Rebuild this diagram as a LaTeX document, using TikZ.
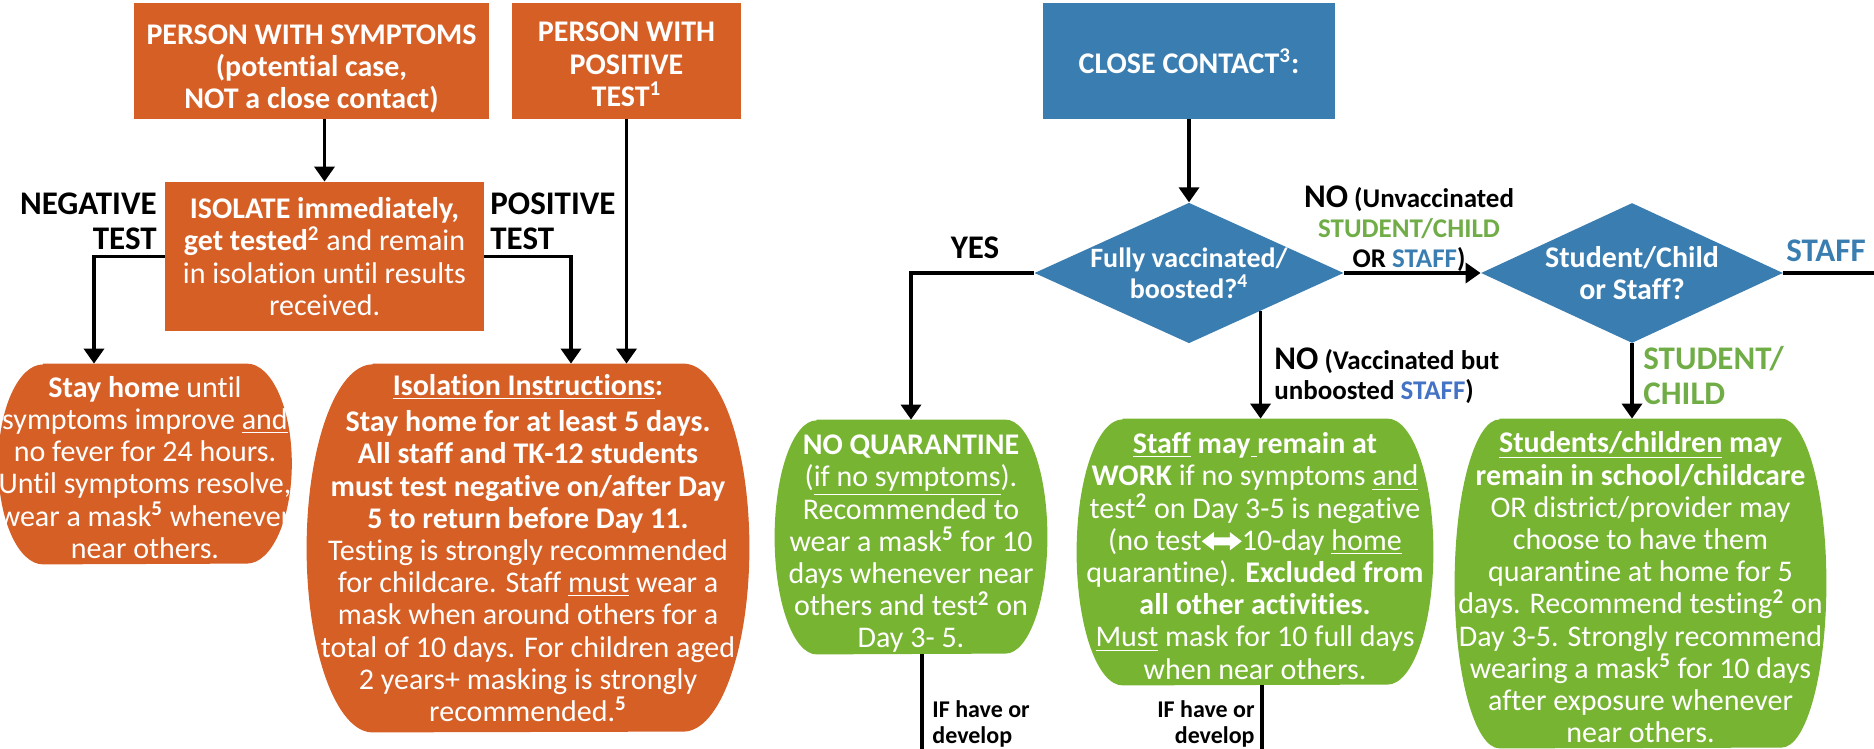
\documentclass[tikz,border=0pt]{standalone}
\usepackage{fontspec}
\setmainfont{Carlito}[Ligatures=NoCommon]
\usetikzlibrary{shapes.geometric,arrows.meta,backgrounds}
\definecolor{cOrange}{HTML}{D65F26}
\definecolor{cBlue}{HTML}{3A7DB1}
\definecolor{cGreen}{HTML}{77B432}
\definecolor{tGreen}{HTML}{70AD47}
\definecolor{tBlue}{HTML}{3A7DB1}
\definecolor{tBlueB}{HTML}{4472C4}
\newcommand{\bxf}{\fontsize{15}{16.1}\selectfont}
\newcommand{\dn}[1]{\rule{0pt}{#1}}
\newcommand{\dblarrow}{\tikz[x=1pt,y=1pt,baseline=-4.5pt]\fill[white] (0,0) -- (6,4.6) -- (6,2) -- (14,2) -- (14,4.6) -- (20,0) -- (14,-4.6) -- (14,-2) -- (6,-2) -- (6,-4.6) -- cycle;}
\newcommand{\capsulefill}[4]{%
  \begin{scope}[on background layer]
  \fill[#2] ([xshift=#3]#1.north west) -- ([xshift=-#3]#1.north east)
     arc[start angle=90,end angle=-90,x radius=#3,y radius=#4]
     -- ([xshift=#3]#1.south west)
     arc[start angle=270,end angle=90,x radius=#3,y radius=#4] -- cycle;
  \end{scope}}
\begin{document}
\begin{tikzpicture}[x=0.5pt,y=-0.5pt,
  rbox/.style={rectangle, fill=#1, text=white, align=center, inner sep=0pt, font=\bxf},
  cbox/.style={rectangle, text=white, align=center, inner sep=0pt, font=\bxf},
  dia/.style={diamond, aspect=2.2, fill=cBlue, text=white, align=center, inner sep=0pt},
  ln/.style={line width=1.8pt},
  arr/.style={line width=1.8pt, -{Triangle[length=7.5pt,width=10pt]}},
  lab/.style={font=\bfseries\fontsize{16.5}{17.5}\selectfont, inner sep=0pt},
  slab/.style={font=\bfseries\fontsize{12}{13}\selectfont, inner sep=0pt}]
\useasboundingbox (0,0) rectangle (1874,749);

% top boxes
\node[rbox=cOrange, minimum width=177.5pt, minimum height=58pt, font=\bfseries\bxf] (sym) at (311.5,61)
  {\dn{17.7pt}PERSON WITH SYMPTOMS\\(potential case,\\NOT a close contact)};
\node[rbox=cOrange, minimum width=114.5pt, minimum height=58pt, font=\bfseries\bxf] (pos) at (626.5,61)
  {\dn{13.3pt}PERSON WITH\\POSITIVE\\TEST\textsuperscript{1}};
\node[rbox=cOrange, minimum width=159.5pt, minimum height=74.5pt] (iso) at (324.5,256.5)
  {\textbf{ISOLATE immediately,}\\\textbf{get tested\textsuperscript{2}} and remain\\in isolation until results\\received.};
\node[rbox=cBlue, minimum width=146pt, minimum height=58pt, font=\bfseries\bxf] (cc) at (1189,61)
  {CLOSE CONTACT\textsuperscript{3}:};

% capsule boxes
\node[cbox, minimum width=145pt, minimum height=100pt] (stay) at (145,464)
  {\dn{14pt}\textbf{Stay home} until\\symptoms improve \underline{and}\\no fever for 24 hours.\\Until symptoms resolve,\\wear a mask\textsuperscript{\textbf{5}} whenever\\near others.};
\capsulefill{stay}{cOrange}{22.5pt}{50pt}

\node[cbox, minimum width=221pt, minimum height=184pt] (instr) at (528,548)
  {\textbf{\underline{Isolation Instructions}:}\\[2pt]
   \textbf{Stay home for at least 5 days.}\\
   \textbf{All staff and TK-12 students}\\
   \textbf{must test negative on/after Day}\\
   \textbf{5 to return before Day 11.}\\
   Testing is strongly recommended\\
   for childcare. Staff \underline{must} wear a\\
   mask when around others for a\\
   total of 10 days. For children aged\\
   2 years+ masking is strongly\\
   recommended.\textsuperscript{\textbf{5}}};
\capsulefill{instr}{cOrange}{33pt}{92pt}

\node[cbox, minimum width=136pt, minimum height=117pt] (noq) at (911,537)
  {\dn{16.7pt}\textbf{NO QUARANTINE}\\(\underline{if no symptoms}).\\Recommended to\\wear a mask\textsuperscript{\textbf{5}} for 10\\days whenever near\\others and test\textsuperscript{\textbf{2}} on\\Day 3- 5.};
\capsulefill{noq}{cGreen}{21pt}{58.5pt}

\node[cbox, minimum width=178pt, minimum height=133pt] (staff) at (1255,552)
  {\dn{14.5pt}\textbf{\underline{Staff} may\underline{\ }remain at}\\\textbf{WORK} if no symptoms \underline{and}\\test\textsuperscript{\textbf{2}} on Day 3-5 is negative\\(no test\dblarrow10-day \underline{home}\\quarantine). \textbf{Excluded from}\\\textbf{all other activities.}\\\underline{Must} mask for 10 full days\\when near others.};
\capsulefill{staff}{cGreen}{23pt}{66.5pt}

\node[cbox, minimum width=185.5pt, minimum height=164.5pt] (stud) at (1640.5,583.5)
  {\dn{14.5pt}\textbf{\underline{Students/children} may}\\\textbf{remain in school/childcare}\\OR district/provider may\\choose to have them\\quarantine at home for 5\\days. Recommend testing\textsuperscript{\textbf{2}} on\\Day 3-5. Strongly recommend\\wearing a mask\textsuperscript{\textbf{5}} for 10 days\\after exposure whenever\\near others.};
\capsulefill{stud}{cGreen}{22.5pt}{82.25pt}

% diamonds
\node[dia, minimum width=153pt, minimum height=70pt, font=\bfseries\fontsize{14}{15.5}\selectfont] (d1) at (1189,273)
  {Fully vaccinated/\\boosted?\textsuperscript{4}};
\node[dia, minimum width=151pt, minimum height=70pt, font=\bfseries\fontsize{15}{16}\selectfont] (d2) at (1632,273)
  {Student/Child\\or Staff?};

% labels
\node[lab, align=right, anchor=east] (neg) at (157,221) {NEGATIVE\\TEST};
\node[lab, align=left, anchor=west] (posl) at (490,221) {POSITIVE\\TEST};
\node[lab] (yes) at (975,248) {YES};
\node[align=center, inner sep=0pt, font=\bfseries\fontsize{13.5}{15}\selectfont] (no1) at (1409,229)
  {{\fontsize{16.5}{15}\selectfont NO} (Unvaccinated\\\textcolor{tGreen}{STUDENT/CHILD}\\OR \textcolor{tBlue}{STAFF})};
\node[align=left, anchor=west, inner sep=0pt, font=\bfseries\fontsize{13.5}{15}\selectfont] (no2) at (1274,376)
  {{\fontsize{16.5}{15}\selectfont NO} (Vaccinated but\\unboosted \textcolor{tBlueB}{STAFF})};
\node[lab, anchor=west, text=tBlue] (stl) at (1786,251) {STAFF};
\node[lab, align=left, anchor=west, text=tGreen] (scl) at (1643,376) {STUDENT/\\CHILD};
\node[slab, align=left, anchor=north west] (if1) at (932,700) {IF have or\\develop};
\node[slab, align=right, anchor=north east] (if2) at (1255,700) {IF have or\\develop};

% connectors
\coordinate (rEdge) at (1874,273);
\coordinate (noqEnd) at (922,749);
\coordinate (stEnd) at (1262,749);
\draw[arr] (sym.south -| iso.north) -- (iso.north);
\draw[arr] (iso.west) -| ([xshift=-25.5pt]stay.north);
\draw[arr] (iso.east) -| ([xshift=21.5pt]instr.north);
\draw[arr] (pos.south) -- (pos.south |- instr.north);
\draw[arr] (cc.south) -- (d1.north);
\draw[arr] (d1.west) -| (noq.north);
\draw[arr] (d1.-28) -- (d1.-28 |- staff.north);
\draw[arr] (d1.east) -- (d2.west);
\draw[ln] (d2.east) -- (rEdge);
\draw[arr] (d2.south) -- (d2.south |- stud.north);
\draw[ln] (noqEnd |- noq.south) -- (noqEnd);
\draw[ln] (stEnd |- staff.south) -- (stEnd);
\end{tikzpicture}
\end{document}
